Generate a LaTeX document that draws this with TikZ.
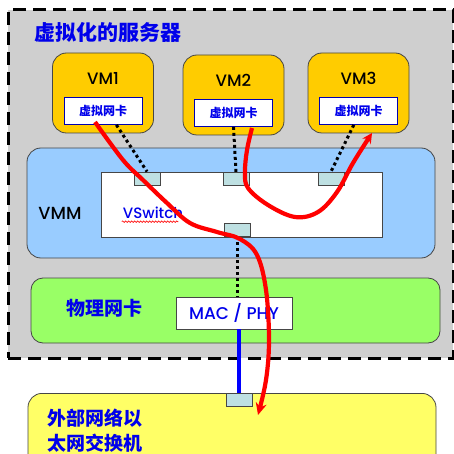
\documentclass[tikz,border=0pt]{standalone}
\usepackage{fontspec}
\setmainfont{Poppins}[UprightFont={* Medium}]
\newfontfamily\cjk{Noto Sans CJK SC}
\usetikzlibrary{positioning, calc, arrows.meta, decorations.pathmorphing}

\definecolor{servergrau}{RGB}{207,207,207}
\definecolor{vmgelb}{RGB}{255,204,0}
\definecolor{vmmblau}{RGB}{153,204,255}
\definecolor{nicgruen}{RGB}{153,255,102}
\definecolor{extgelb}{RGB}{255,255,102}
\definecolor{portfarbe}{RGB}{190,224,226}
\definecolor{randgrau}{RGB}{70,70,70}
\definecolor{textblau}{RGB}{0,0,235}

\tikzset{
	box/.style={draw=randgrau, line width=0.8pt, rounded corners=14pt, inner sep=0pt},
	vm/.style={box, fill=vmgelb, minimum width=101pt, minimum height=80pt},
	vnic/.style={draw=blue!70!black, line width=0.8pt, fill=white, minimum width=78pt, minimum height=27pt, inner sep=0pt,
		text=textblau, font=\cjk\bfseries\fontsize{12}{12}\selectfont},
	port/.style={draw=randgrau, line width=0.8pt, fill=portfarbe, minimum width=26pt, minimum height=13pt, inner sep=0pt},
	latein/.style={font=\fontsize{16.5}{16.5}\selectfont},
	cjktext/.style={text=textblau, font=\cjk\bfseries\fontsize{19}{25}\selectfont},
	gepunktet/.style={line width=3pt, dash pattern=on 3pt off 3pt},
	pfad/.style={red, line width=4.2pt, -{Stealth[length=12pt, width=11pt]}}
}

\begin{document}
\begin{tikzpicture}[x=1pt, y=-1pt]
	\useasboundingbox (0,0) rectangle (454,454);
	\fill [white] (0,0) rectangle (454,454);
	\clip (0,0) rectangle (454,454);

	%Server
	\node [draw=black, fill=servergrau, line width=3pt, dash pattern=on 13pt off 7pt,
		minimum width=445pt, minimum height=348pt] (server) at (230.5,184) {};
	\node [cjktext, anchor=west, font=\cjk\bfseries\fontsize{21}{21}\selectfont] (titel) at (31,32) {虚拟化的服务器};

	%VMs
	\foreach \i/\x/\y in {1/103/93, 2/233.5/95, 3/358.5/93}
	{
		\node [vm] (vm\i) at (\x,\y) {};
		\node [latein] (vmname\i) at (\x,\y-15) {VM\i};
		\node [vnic] (nic\i) at (\x,\y+18) {虚拟网卡};
	}

	%VMM
	\node [box, fill=vmmblau, minimum width=408pt, minimum height=110pt] (vmm) at (231,203) {};
	\node [latein, font=\fontsize{17.5}{17.5}\selectfont] (vmmtext) at (60,213) {VMM};
	\node [draw=randgrau, line width=0.8pt, fill=white, minimum width=281pt, minimum height=65pt] (vswitch) at (241.5,204.5) {};
	\node [latein, text=textblau, font=\fontsize{15}{15}\selectfont, inner sep=1pt] (vswitchtext) at (153,213) {VSwitch};
	\draw [red, line width=0.6pt, decorate, decoration={snake, amplitude=0.8pt, segment length=3pt}]
		($(vswitchtext.base west)+(0,3)$) -- ($(vswitchtext.base east)+(-6,3)$);
	\foreach \n/\x/\y in {1/147/178.5, 2/236/179, 3/331/178.5, 4/237.5/229.5}
	{
		\node [port] (port\n) at (\x,\y) {};
	}

	%Netzkarte
	\node [box, fill=nicgruen, rounded corners=12pt, minimum width=409pt, minimum height=65pt] (pnic) at (235.5,310.5) {};
	\node [cjktext] (pnictext) at (104.5,308) {物理网卡};
	\node [draw=randgrau, line width=0.8pt, fill=white, minimum width=116pt, minimum height=32pt,
		latein, font=\fontsize{17}{17}\selectfont, text=textblau] (mac) at (234,313) {MAC / PHY};

	%Extern
	\node [box, fill=extgelb, minimum width=408pt, minimum height=100pt, anchor=north] (extern) at (232,393) {};
	\node [cjktext, anchor=north west, align=left, inner sep=0pt] (externtext) at (47,409) {外部网络以\\太网交换机};
	\node [port] (port5) at (239,400) {};

	%Verbindungen
	\draw [gepunktet] ($(nic1.south west)!0.67!(nic1.south east)$) -- (port1.north);
	\draw [gepunktet] (nic2.south) -- (port2.north);
	\draw [gepunktet] ($(nic3.south west)!0.44!(nic3.south east)$) -- (port3.north);
	\draw [gepunktet] (port4.south) -- (port4.south |- mac.north);
	\draw [blue, line width=3.2pt] (port5.north |- mac.south) -- (port5.north);

	%Datenpfade
	\draw [pfad] plot [smooth, tension=0.6] coordinates {(95,122) (123,160) (143,180) (167,203) (190,223) (217,232)
		(240,239) (257,255) (266,290) (269,340) (266,380) (258,415)};
	\draw [pfad, -{Stealth[length=10pt, width=10pt]}] plot [smooth, tension=0.6] coordinates {(252,128) (247,150) (245,172)
		(248,188) (268,205) (295,217) (318,212) (337,192) (353,163) (372,133)};

\end{tikzpicture}
\end{document}
